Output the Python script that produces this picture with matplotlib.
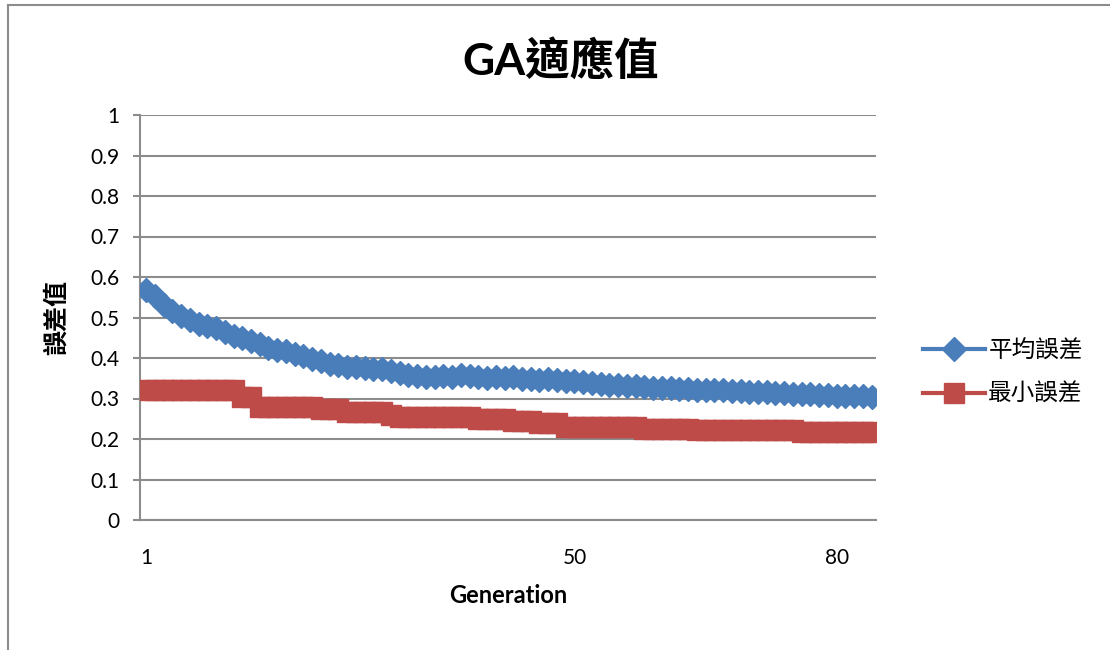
import matplotlib
matplotlib.use("Agg")
import matplotlib.pyplot as plt
from matplotlib.lines import Line2D

plt.rcParams['font.family'] = ['Lato', 'Noto Sans CJK TC', 'DejaVu Sans']

generations = list(range(1, 85))

avg_err = [0.568, 0.552, 0.532, 0.515, 0.503, 0.495, 0.485, 0.478, 0.475, 0.465,
           0.455, 0.450, 0.442, 0.435, 0.425, 0.420, 0.418, 0.410, 0.405, 0.398,
           0.392, 0.386, 0.382, 0.379, 0.377, 0.375, 0.373, 0.372, 0.368, 0.363,
           0.358, 0.355, 0.353, 0.354, 0.355, 0.354, 0.357, 0.355, 0.353, 0.351,
           0.352, 0.350, 0.353, 0.349, 0.347, 0.346, 0.348, 0.345, 0.344, 0.342,
           0.340, 0.338, 0.336, 0.334, 0.333, 0.332, 0.330, 0.328, 0.327, 0.326,
           0.325, 0.324, 0.323, 0.322, 0.322, 0.321, 0.320, 0.319, 0.318, 0.317,
           0.316, 0.315, 0.314, 0.313, 0.312, 0.311, 0.310, 0.309, 0.308, 0.307,
           0.306, 0.306, 0.305, 0.304]

min_err = ([0.320] * 11 + [0.304] * 2 + [0.280] * 7 + [0.274] * 3 + [0.267] * 5 +
           [0.259] + [0.254] * 9 + [0.250] * 4 + [0.244] * 3 + [0.240] * 3 +
           [0.229] * 9 + [0.225] * 6 + [0.222] * 12 + [0.218] * 9)

x_ticks = [1, 50, 80]
y_ticks = [0, 0.1, 0.2, 0.3, 0.4, 0.5, 0.6, 0.7, 0.8, 0.9, 1]
y_labels = ["0", "0.1", "0.2", "0.3", "0.4", "0.5", "0.6", "0.7", "0.8", "0.9", "1"]

blue = "#4A7EBB"
red = "#BE4B48"
grid_c = "#8C8C8C"

fig = plt.figure(figsize=(11.1, 6.5), dpi=100)
ax = fig.add_axes([140 / 1110, 130 / 650, 736 / 1110, 405 / 650])

ax.plot(generations, avg_err, color=blue, lw=3, marker="D", ms=12,
        label="平均誤差", zorder=3)
ax.plot(generations, min_err, color=red, lw=3, marker="s", ms=14,
        label="最小誤差", zorder=3)

ax.set_xlim(0.3, 84.5)
ax.set_ylim(0, 1)
ax.set_yticks(y_ticks)
ax.set_yticklabels(y_labels, fontsize=15)
ax.set_xticks(x_ticks)
ax.set_xticklabels([str(t) for t in x_ticks], fontsize=15)
ax.tick_params(axis="x", length=0, pad=20)
ax.tick_params(axis="y", length=5, width=1.5, color=grid_c, pad=10)
ax.grid(axis="y", color=grid_c, lw=1.5)
ax.set_axisbelow(True)
for s in ["top", "right"]:
    ax.spines[s].set_visible(False)
for s in ["left", "bottom"]:
    ax.spines[s].set_color(grid_c)
    ax.spines[s].set_linewidth(1.5)

ax.set_xlabel("Generation", fontsize=17, fontweight="bold", labelpad=12)
ax.set_ylabel("誤差值", fontsize=18, fontweight="bold", labelpad=16)
fig.text(561 / 1110, 1 - 60 / 650, "GA適應值", fontsize=32, fontweight="bold",
         ha="center", va="center")

ax.legend(loc="center left", bbox_to_anchor=(914 / 1110, 1 - 372 / 650),
          bbox_transform=fig.transFigure, frameon=False, fontsize=17,
          handlelength=2.6, handletextpad=0.15, labelspacing=0.9, borderaxespad=0)

# chart frame edge
fig.add_artist(Line2D([8 / 1110, 8 / 1110], [0, 1 - 5 / 650], color="#8C8C8C", lw=1.5))
fig.add_artist(Line2D([8 / 1110, 1], [1 - 5 / 650, 1 - 5 / 650], color="#8C8C8C", lw=1.5))

fig.savefig("out.png", dpi=100)
